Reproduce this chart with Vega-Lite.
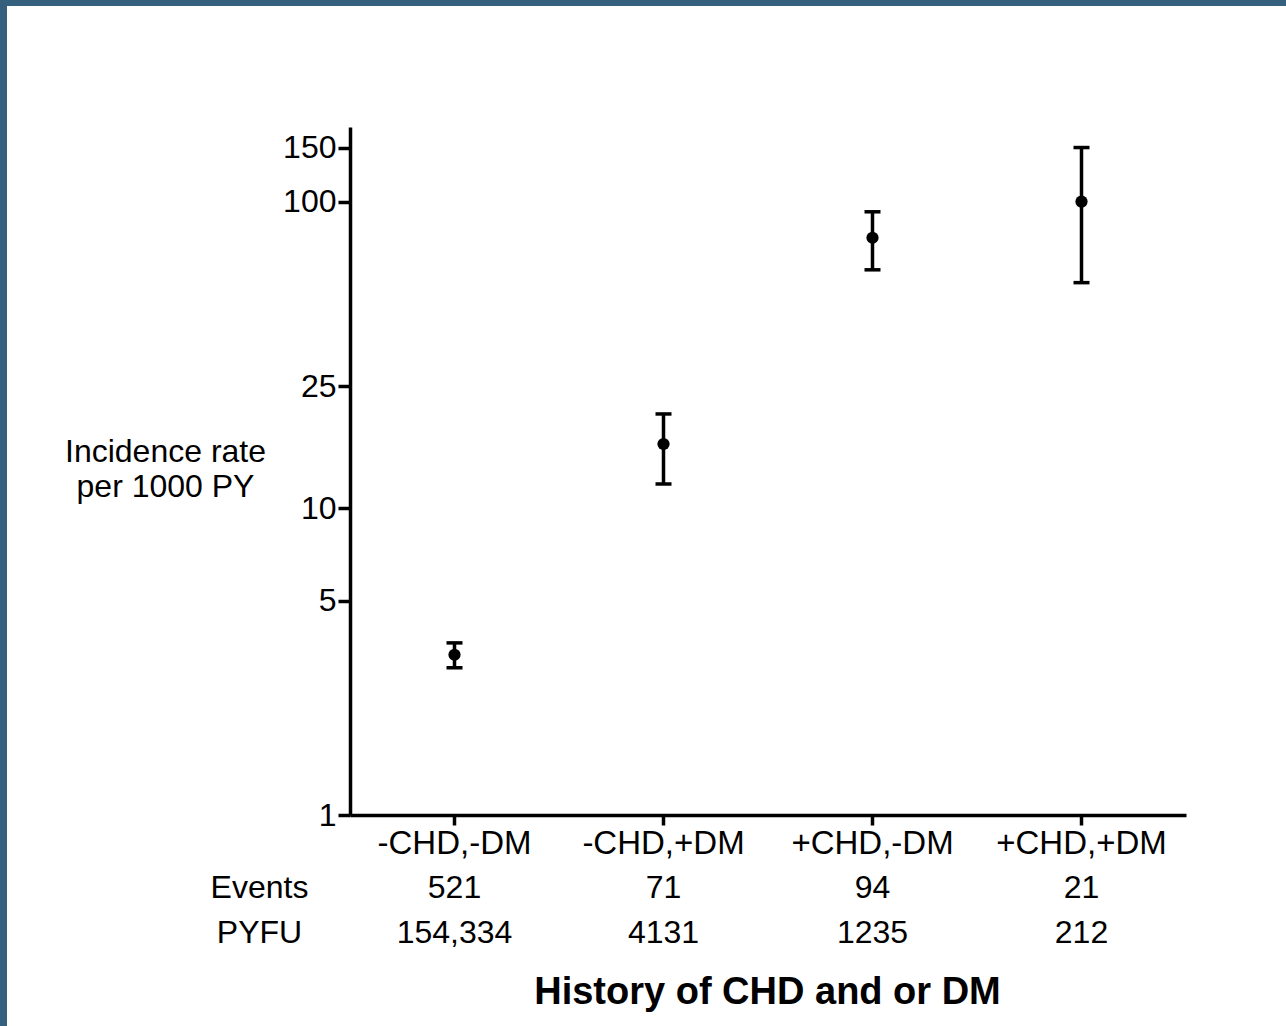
{
  "$schema": "https://vega.github.io/schema/vega-lite/v6.json",
  "width": 1279,
  "height": 1020,
  "autosize": {"type": "none"},
  "padding": {"left": 7, "top": 6, "right": 0, "bottom": 0},
  "background": "#35617f",
  "config": {
    "view": {"fill": "white", "stroke": null},
    "font": "Liberation Sans",
    "axis": {"domainColor": "black", "tickColor": "black", "labelColor": "black", "titleColor": "black", "grid": false}
  },
  "layer": [
    {
      "data": {"values": [
        {"group": "-CHD,-DM", "rate": 3.33, "lower": 3.02, "upper": 3.64},
        {"group": "-CHD,+DM", "rate": 16.2, "lower": 12.0, "upper": 20.3},
        {"group": "+CHD,-DM", "rate": 76.2, "lower": 59.9, "upper": 92.6},
        {"group": "+CHD,+DM", "rate": 100, "lower": 54.4, "upper": 150}
      ]},
      "encoding": {
        "x": {
          "field": "group", "type": "nominal", "sort": null,
          "scale": {"type": "band", "domain": ["-CHD,-DM", "-CHD,+DM", "+CHD,-DM", "+CHD,+DM"], "range": [343, 1179], "paddingInner": 0, "paddingOuter": 0},
          "axis": {
            "title": "History of CHD and or DM", "titleFontSize": 38, "titleFontWeight": "bold",
            "titleX": 760, "titleY": 188, "titleAlign": "center", "titleBaseline": "alphabetic",
            "labelFontSize": 33, "labelAngle": 0, "labelPadding": 2, "labelBaseline": "top",
            "tickSize": 10, "tickWidth": 3.5, "domainWidth": 3.5, "offset": -211
          }
        }
      },
      "layer": [
        {
          "mark": {"type": "rule", "strokeWidth": 3.5, "color": "black"},
          "encoding": {
            "y": {
              "field": "lower", "type": "quantitative",
              "scale": {"type": "log", "domain": [1, 175], "range": [809, 121], "nice": false},
              "axis": {
                "title": ["Incidence rate", "per 1000 PY"], "titleAngle": 0, "titleAlign": "center",
                "titleBaseline": "alphabetic", "titleX": -185, "titleY": 455, "titleFontSize": 32,
                "titleFontWeight": "normal", "titleLineHeight": 35,
                "values": [1, 5, 10, 25, 100, 150], "format": "d",
                "labelFontSize": 32, "labelPadding": 2, "labelFlush": false, "labelOverlap": false,
                "tickSize": 12, "tickWidth": 3.5, "domainWidth": 3.5, "offset": -343
              }
            },
            "y2": {"field": "upper"}
          }
        },
        {
          "mark": {"type": "tick", "size": 16, "thickness": 3.5, "color": "black", "opacity": 1},
          "encoding": {"y": {"field": "lower", "type": "quantitative"}}
        },
        {
          "mark": {"type": "tick", "size": 16, "thickness": 3.5, "color": "black", "opacity": 1},
          "encoding": {"y": {"field": "upper", "type": "quantitative"}}
        },
        {
          "mark": {"type": "point", "filled": true, "size": 150, "color": "black", "opacity": 1},
          "encoding": {"y": {"field": "rate", "type": "quantitative"}}
        }
      ]
    },
    {
      "data": {"values": [
        {"col": "header", "row": "Events", "label": "Events"},
        {"col": "header", "row": "PYFU", "label": "PYFU"},
        {"col": "-CHD,-DM", "row": "Events", "label": "521"},
        {"col": "-CHD,+DM", "row": "Events", "label": "71"},
        {"col": "+CHD,-DM", "row": "Events", "label": "94"},
        {"col": "+CHD,+DM", "row": "Events", "label": "21"},
        {"col": "-CHD,-DM", "row": "PYFU", "label": "154,334"},
        {"col": "-CHD,+DM", "row": "PYFU", "label": "4131"},
        {"col": "+CHD,-DM", "row": "PYFU", "label": "1235"},
        {"col": "+CHD,+DM", "row": "PYFU", "label": "212"}
      ]},
      "encoding": {
        "x": {
          "field": "col", "type": "nominal", "sort": null,
          "scale": {"type": "band", "domain": ["header", "-CHD,-DM", "-CHD,+DM", "+CHD,-DM", "+CHD,+DM"], "range": [134, 1179], "paddingInner": 0, "paddingOuter": 0},
          "axis": null
        },
        "y": {
          "field": "row", "type": "nominal",
          "scale": {"type": "point", "domain": ["Events", "PYFU"], "range": [892, 937], "padding": 0},
          "axis": null
        },
        "text": {"field": "label"}
      },
      "layer": [
        {
          "transform": [{"filter": "datum.col !== 'header'"}],
          "mark": {"type": "text", "fontSize": 32, "baseline": "alphabetic", "align": "center", "color": "black"}
        },
        {
          "transform": [{"filter": "datum.col === 'header'"}],
          "mark": {"type": "text", "fontSize": 32, "baseline": "alphabetic", "align": "center", "color": "black", "dx": 14}
        }
      ]
    }
  ],
  "resolve": {"scale": {"x": "independent", "y": "independent"}}
}
